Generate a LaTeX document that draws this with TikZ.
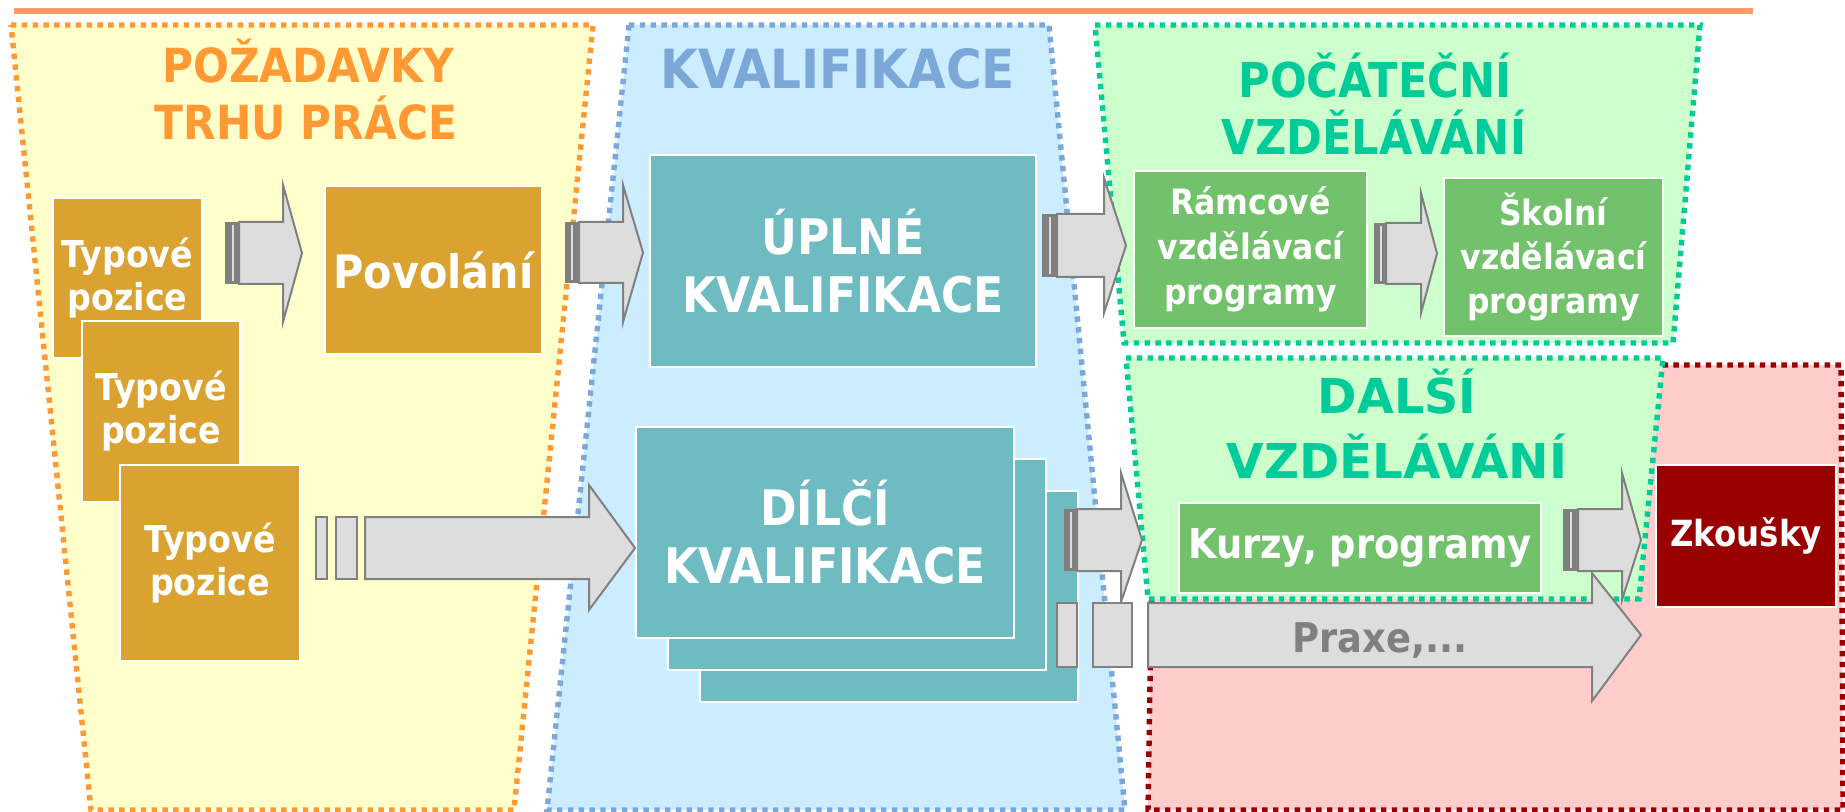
\documentclass[tikz,border=0pt]{standalone}
\usepackage{fontspec}
\usepackage{graphicx}
\setmainfont{DejaVu Sans}[FakeStretch=0.9]
\definecolor{topline}{HTML}{FF9A6A}
\definecolor{yelfill}{HTML}{FFFFCC}
\definecolor{yelline}{HTML}{FF9933}
\definecolor{bluefill}{HTML}{CCECFF}
\definecolor{blueline}{HTML}{7BA8D8}
\definecolor{grnfill}{HTML}{CCFFCC}
\definecolor{grnline}{HTML}{00CC99}
\definecolor{redfill}{HTML}{FFCCCC}
\definecolor{redline}{HTML}{990000}
\definecolor{gold}{HTML}{DAA331}
\definecolor{teal}{HTML}{6EBBC1}
\definecolor{leaf}{HTML}{72C16B}
\definecolor{arrfill}{HTML}{DDDDDD}
\definecolor{arrline}{HTML}{808080}
\tikzset{
  region/.style={line width=2.7pt, dash pattern=on 2.7pt off 2.7pt},
  boxbase/.style={draw=white, line width=0.8pt, inner sep=0pt, align=center, text=white},
  arr/.style={fill=arrfill, draw=arrline, line width=1pt, line join=miter},
  ttl/.style={anchor=base, inner sep=0pt},
}
\newcommand\bx[7]{\node[boxbase,#6, minimum width={((#4)-(#2))*0.5pt}, minimum height={((#5)-(#3))*0.5pt}] (#1) at ({((#2)+(#4))/2},{((#3)+(#5))/2}) {#7};}
\newcommand\tailbar[5]{\fill[arrline] (#1,#4) rectangle (#2,#5);
  \fill[arrfill] ({(#3)-0.9},{(#4)+3}) rectangle ({(#3)+0.9},{(#5)-3});}
\newcommand\barrow[7]{\draw[arr] (#1,#4) -- (#2,#4) -- (#2,#6) -- (#3,{((#4)+(#5))/2}) -- (#2,#7) -- (#2,#5) -- (#1,#5) -- cycle;}
\begin{document}
\begin{tikzpicture}[x=0.5pt,y=-0.5pt]
\useasboundingbox (0,0) rectangle (1845,812);
% top line
\draw[line width=3pt, topline] (14,11) -- (1753,11);
% regions
\path[region, draw=yelline, fill=yelfill] (11,25) -- (593,25) -- (514,810) -- (91,810) -- cycle;
\path[region, draw=blueline, fill=bluefill] (629,25) -- (1049,25) -- (1125,810) -- (547,810) -- cycle;
\path[region, draw=redline, fill=redfill] (1155,365) -- (1841,365) -- (1843,810) -- (1148,810) -- cycle;
\path[region, draw=grnline, fill=grnfill] (1095,25) -- (1700,25) -- (1673,343) -- (1124,343) -- cycle;
\path[region, draw=grnline, fill=grnfill] (1126,358) -- (1663,358) -- (1639,599) -- (1148,599) -- cycle;
% titles
\node[ttl, text=yelline, font=\bfseries\fontsize{23.5}{28}\selectfont] (t1a) at (308,83) {POŽADAVKY};
\node[ttl, text=yelline, font=\bfseries\fontsize{23.5}{28}\selectfont] (t1b) at (306,140) {TRHU PRÁCE};
\node[ttl, text=blueline, font=\bfseries\fontsize{27}{32}\selectfont] (t2) at (838,89) {KVALIFIKACE};
\node[ttl, text=grnline, font=\bfseries\fontsize{24}{28}\selectfont] (t3a) at (1375,98) {POČÁTEČNÍ};
\node[ttl, text=grnline, font=\bfseries\fontsize{24}{28}\selectfont] (t3b) at (1374,155) {VZDĚLÁVÁNÍ};
\node[ttl, text=grnline, font=\bfseries\fontsize{24}{28}\selectfont] (t4a) at (1397,413) {\scalebox{1.1}[1]{DALŠÍ}};
\node[ttl, text=grnline, font=\bfseries\fontsize{24}{28}\selectfont] (t4b) at (1397,478) {\scalebox{1.12}[1]{VZDĚLÁVÁNÍ}};
% boxes
\bx{typ1}{53}{198}{202}{358}{fill=gold, font=\bfseries\fontsize{18.5}{21.5}\selectfont}{Typové\\pozice}
\bx{typ2}{82}{321}{240}{502}{fill=gold, font=\bfseries\fontsize{18.5}{21.5}\selectfont}{Typové\\pozice}
\bx{typ3}{120}{465}{300}{661}{fill=gold, font=\bfseries\fontsize{18.5}{21.5}\selectfont}{Typové\\pozice}
\bx{pov}{325}{186}{542}{354}{fill=gold, font=\bfseries\fontsize{23}{28}\selectfont}{Povolání}
\bx{upl}{650}{155}{1036}{367}{fill=teal, font=\bfseries\fontsize{24.5}{29}\selectfont}{ÚPLNÉ\\KVALIFIKACE}
\bx{dil3}{700}{491}{1078}{702}{fill=teal}{}
\bx{dil2}{668}{459}{1046}{670}{fill=teal, font=\bfseries\fontsize{24.5}{29}\selectfont}{DÍLČÍ\\KVALIFIKACE}
\bx{dil1}{636}{427}{1014}{638}{fill=teal, font=\bfseries\fontsize{24.5}{29}\selectfont}{DÍLČÍ\\KVALIFIKACE}
\bx{ram}{1134}{171}{1367}{328}{fill=leaf, font=\bfseries\fontsize{17.5}{22.5}\selectfont}{Rámcové\\vzdělávací\\programy}
\bx{sko}{1444}{178}{1663}{336}{fill=leaf, font=\bfseries\fontsize{17.5}{22}\selectfont}{Školní\\vzdělávací\\programy}
\bx{kur}{1179}{503}{1541}{593}{fill=leaf, font=\bfseries\fontsize{20.5}{24}\selectfont}{Kurzy, programy}
\bx{zko}{1656}{465}{1836}{607}{fill=redline, font=\bfseries\fontsize{18}{22}\selectfont}{Zkoušky}
% arrows
\tailbar{225}{239}{233}{222}{284}
\barrow{239}{283}{302}{222}{284}{185}{322}
\tailbar{565}{579}{572}{222}{283}
\barrow{579}{623}{643}{222}{283}{185}{322}
\tailbar{1042}{1057}{1050}{214}{277}
\barrow{1057}{1104}{1126}{214}{277}{178}{313}
\tailbar{1374}{1386}{1381}{223}{284}
\barrow{1386}{1421}{1437}{223}{284}{193}{313}
\tailbar{1064}{1077}{1071}{509}{571}
\barrow{1077}{1121}{1142}{509}{571}{473}{602}
\tailbar{1563}{1578}{1571}{509}{571}
\barrow{1578}{1622}{1641}{509}{571}{473}{600}
\draw[arr] (316,517) rectangle (327,579);
\draw[arr] (336,517) rectangle (357,579);
\barrow{365}{589}{635}{517}{579}{485}{610}
\draw[arr] (1057,603) rectangle (1077,667);
\draw[arr] (1093,603) rectangle (1132,667);
\barrow{1148}{1592}{1641}{603}{667}{573}{701}
\node[ttl, text=arrline, font=\bfseries\fontsize{20.5}{24}\selectfont] (praxe) at (1380,652) {Praxe,...};
\end{tikzpicture}
\end{document}
